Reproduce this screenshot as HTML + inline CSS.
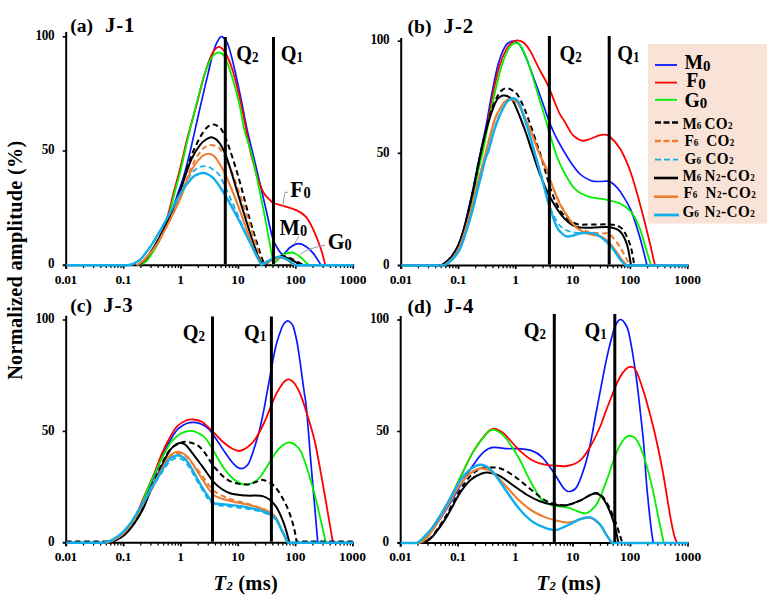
<!DOCTYPE html>
<html><head><meta charset="utf-8"><title>T2 spectra</title>
<style>
html,body{margin:0;padding:0;background:#fff;}
body{width:776px;height:601px;overflow:hidden;position:relative;font-family:"Liberation Serif",serif;}
</style></head><body>
<svg width="776" height="601" viewBox="0 0 776 601" style="position:absolute;left:0;top:0;font-family:'Liberation Serif',serif;font-weight:bold">
<rect width="776" height="601" fill="#fff"/>
<g stroke="#000" fill="none">
<path d="M66.2,32.0 V268.7" stroke-width="2"/>
<path d="M62.7,265.2 H354.2" stroke-width="2"/>
<path d="M62.7,36.8 H66.2" stroke-width="1.6"/>
<path d="M62.7,151.0 H66.2" stroke-width="1.6"/>
<path d="M66.2,265.2 V268.7" stroke-width="1.8"/>
<path d="M83.5,265.2 V268.0" stroke-width="1.3"/>
<path d="M93.6,265.2 V268.0" stroke-width="1.3"/>
<path d="M100.8,265.2 V268.0" stroke-width="1.3"/>
<path d="M106.3,265.2 V268.0" stroke-width="1.3"/>
<path d="M110.9,265.2 V268.0" stroke-width="1.3"/>
<path d="M114.7,265.2 V268.0" stroke-width="1.3"/>
<path d="M118.0,265.2 V268.0" stroke-width="1.3"/>
<path d="M121.0,265.2 V268.0" stroke-width="1.3"/>
<path d="M123.6,265.2 V268.7" stroke-width="1.8"/>
<path d="M140.9,265.2 V268.0" stroke-width="1.3"/>
<path d="M151.0,265.2 V268.0" stroke-width="1.3"/>
<path d="M158.2,265.2 V268.0" stroke-width="1.3"/>
<path d="M163.7,265.2 V268.0" stroke-width="1.3"/>
<path d="M168.3,265.2 V268.0" stroke-width="1.3"/>
<path d="M172.1,265.2 V268.0" stroke-width="1.3"/>
<path d="M175.4,265.2 V268.0" stroke-width="1.3"/>
<path d="M178.4,265.2 V268.0" stroke-width="1.3"/>
<path d="M181.0,265.2 V268.7" stroke-width="1.8"/>
<path d="M198.3,265.2 V268.0" stroke-width="1.3"/>
<path d="M208.4,265.2 V268.0" stroke-width="1.3"/>
<path d="M215.6,265.2 V268.0" stroke-width="1.3"/>
<path d="M221.1,265.2 V268.0" stroke-width="1.3"/>
<path d="M225.7,265.2 V268.0" stroke-width="1.3"/>
<path d="M229.5,265.2 V268.0" stroke-width="1.3"/>
<path d="M232.8,265.2 V268.0" stroke-width="1.3"/>
<path d="M235.8,265.2 V268.0" stroke-width="1.3"/>
<path d="M238.4,265.2 V268.7" stroke-width="1.8"/>
<path d="M255.7,265.2 V268.0" stroke-width="1.3"/>
<path d="M265.8,265.2 V268.0" stroke-width="1.3"/>
<path d="M273.0,265.2 V268.0" stroke-width="1.3"/>
<path d="M278.5,265.2 V268.0" stroke-width="1.3"/>
<path d="M283.1,265.2 V268.0" stroke-width="1.3"/>
<path d="M286.9,265.2 V268.0" stroke-width="1.3"/>
<path d="M290.2,265.2 V268.0" stroke-width="1.3"/>
<path d="M293.2,265.2 V268.0" stroke-width="1.3"/>
<path d="M295.8,265.2 V268.7" stroke-width="1.8"/>
<path d="M313.1,265.2 V268.0" stroke-width="1.3"/>
<path d="M323.2,265.2 V268.0" stroke-width="1.3"/>
<path d="M330.4,265.2 V268.0" stroke-width="1.3"/>
<path d="M335.9,265.2 V268.0" stroke-width="1.3"/>
<path d="M340.5,265.2 V268.0" stroke-width="1.3"/>
<path d="M344.3,265.2 V268.0" stroke-width="1.3"/>
<path d="M347.6,265.2 V268.0" stroke-width="1.3"/>
<path d="M350.6,265.2 V268.0" stroke-width="1.3"/>
<path d="M353.2,265.2 V268.7" stroke-width="1.8"/>
</g>
<text transform="translate(54.4,40.0) scale(0.930,1)" text-anchor="end" xml:space="preserve" letter-spacing="-0.3"><tspan font-size="14.2" dy="0.0" >100</tspan></text>
<text transform="translate(54.4,154.2) scale(0.930,1)" text-anchor="end" xml:space="preserve" letter-spacing="-0.3"><tspan font-size="14.2" dy="0.0" >50</tspan></text>
<text transform="translate(54.4,268.4) scale(0.930,1)" text-anchor="end" xml:space="preserve" letter-spacing="-0.3"><tspan font-size="14.2" dy="0.0" >0</tspan></text>
<text transform="translate(65.9,283.5) scale(1.000,1)" text-anchor="middle" xml:space="preserve" letter-spacing="-0.35"><tspan font-size="13.5" dy="0.0" >0.01</tspan></text>
<text transform="translate(123.3,283.5) scale(1.000,1)" text-anchor="middle" xml:space="preserve" letter-spacing="-0.35"><tspan font-size="13.5" dy="0.0" >0.1</tspan></text>
<text transform="translate(180.7,283.5) scale(1.000,1)" text-anchor="middle" xml:space="preserve" letter-spacing="0"><tspan font-size="13.5" dy="0.0" >1</tspan></text>
<text transform="translate(238.1,283.5) scale(1.000,1)" text-anchor="middle" xml:space="preserve" letter-spacing="0"><tspan font-size="13.5" dy="0.0" >10</tspan></text>
<text transform="translate(295.5,283.5) scale(1.000,1)" text-anchor="middle" xml:space="preserve" letter-spacing="0"><tspan font-size="13.5" dy="0.0" >100</tspan></text>
<text transform="translate(352.9,283.5) scale(1.000,1)" text-anchor="middle" xml:space="preserve" letter-spacing="0"><tspan font-size="13.5" dy="0.0" >1000</tspan></text>
<path d="M140.0,265.2 C141.2,264.2 144.5,262.0 147.0,259.0 C149.5,256.0 152.0,252.3 155.0,247.0 C158.0,241.7 162.2,233.2 165.0,227.0 C167.8,220.8 169.8,215.7 172.0,210.0 C174.2,204.3 176.1,198.5 178.0,193.0 C179.9,187.5 181.7,183.0 183.5,177.0 C185.3,171.0 187.1,164.1 188.8,157.0 C190.6,149.9 192.1,143.1 194.0,134.6 C195.9,126.1 198.2,115.7 200.5,105.8 C202.8,95.9 205.4,84.4 207.7,75.1 C209.9,65.8 212.0,56.0 214.0,49.8 C216.0,43.6 218.0,40.2 219.5,38.1 C221.0,36.0 221.7,36.3 223.0,37.2 C224.3,38.1 225.9,39.3 227.6,43.5 C229.3,47.7 230.9,53.9 233.0,62.5 C235.1,71.1 237.8,83.6 240.2,95.0 C242.6,106.4 244.9,119.8 247.4,131.0 C249.9,142.2 252.1,150.2 255.0,162.5 C257.9,174.8 262.1,192.5 265.0,205.0 C267.9,217.5 270.3,230.2 272.5,237.5 C274.7,244.8 276.2,246.2 278.0,249.0 C279.8,251.8 281.0,254.6 283.0,254.3 C285.0,254.1 287.4,249.3 290.0,247.5 C292.6,245.7 295.9,243.9 298.6,243.7 C301.3,243.5 303.6,244.9 306.0,246.5 C308.4,248.1 310.9,250.4 313.3,253.4 C315.7,256.4 319.4,262.6 320.6,264.4" fill="none" stroke="#0818FF" stroke-width="1.7" stroke-linejoin="round"/>
<path d="M137.5,265.2 C138.8,264.6 143.1,262.9 145.0,261.5 C146.9,260.1 146.9,259.6 149.0,256.5 C151.1,253.4 154.8,247.9 157.3,243.2 C159.8,238.5 162.0,233.5 163.9,228.2 C165.8,222.9 167.2,217.7 168.9,211.6 C170.6,205.5 172.1,198.5 173.9,191.6 C175.7,184.7 177.3,179.5 179.7,170.0 C182.1,160.5 185.5,145.3 188.3,134.6 C191.1,123.9 193.7,115.4 196.3,105.8 C198.9,96.2 201.3,85.3 203.8,76.9 C206.3,68.5 208.8,60.3 211.3,55.3 C213.8,50.3 216.2,47.1 218.6,46.8 C221.0,46.5 223.4,49.4 225.8,53.5 C228.2,57.6 230.6,63.7 233.0,71.5 C235.4,79.3 237.9,90.5 240.2,100.4 C242.4,110.3 244.9,122.7 246.5,131.0 C248.1,139.3 248.8,144.3 250.0,150.0 C251.2,155.7 252.7,160.2 254.0,165.0 C255.3,169.8 256.4,174.3 258.0,179.0 C259.6,183.7 261.8,189.5 263.8,193.0 C265.8,196.5 268.3,198.3 270.0,200.0 C271.7,201.7 271.3,201.9 273.9,203.0 C276.5,204.1 282.0,205.5 285.8,206.7 C289.6,207.9 293.4,208.7 296.8,210.4 C300.2,212.1 303.2,213.6 306.0,216.8 C308.8,220.0 310.9,224.4 313.3,229.6 C315.7,234.8 318.6,242.1 320.6,248.0 C322.6,253.9 324.6,262.3 325.4,265.2" fill="none" stroke="#FF0000" stroke-width="1.8" stroke-linejoin="round"/>
<path d="M139.0,265.2 C140.2,264.6 144.2,262.9 146.0,261.5 C147.8,260.1 147.9,259.6 150.0,256.5 C152.1,253.4 155.8,247.9 158.3,243.2 C160.8,238.5 163.0,233.5 164.9,228.2 C166.8,222.9 168.2,217.7 169.9,211.6 C171.6,205.5 173.1,198.5 174.9,191.6 C176.7,184.7 178.4,179.5 180.7,170.0 C183.0,160.5 186.2,145.3 188.8,134.6 C191.4,123.9 193.6,115.1 196.0,105.8 C198.4,96.5 200.8,86.4 203.2,78.7 C205.6,71.0 208.0,64.1 210.4,59.8 C212.8,55.4 215.3,53.0 217.7,52.6 C220.1,52.2 222.5,53.0 224.9,57.1 C227.3,61.2 229.7,69.1 232.1,76.9 C234.5,84.7 237.2,95.0 239.3,104.0 C241.4,113.0 242.5,122.1 244.7,131.0 C246.9,139.9 249.5,145.2 252.5,157.5 C255.5,169.8 259.6,190.4 262.5,205.0 C265.4,219.6 268.2,235.2 270.0,245.0 C271.8,254.8 272.9,260.8 273.5,264.0 L273.5,264.0 C274.4,263.1 277.2,260.1 279.0,258.5 C280.8,256.9 281.9,255.3 284.0,254.3 C286.1,253.3 289.3,252.6 291.3,252.5 C293.3,252.4 294.5,253.2 296.0,254.0 C297.5,254.8 298.9,255.8 300.4,257.0 C301.9,258.2 303.6,260.2 305.0,261.5 C306.4,262.8 308.1,264.4 308.7,265.0" fill="none" stroke="#00F000" stroke-width="1.8" stroke-linejoin="round"/>
<path d="M138.3,265.2 C139.4,264.2 142.5,262.3 145.0,259.5 C147.5,256.7 150.2,253.1 153.3,248.2 C156.4,243.3 160.0,236.6 163.3,229.9 C166.6,223.2 170.2,215.6 173.3,208.3 C176.4,201.0 179.3,192.7 181.6,186.0 C183.9,179.3 185.2,173.5 187.0,168.0 C188.8,162.5 190.3,158.1 192.5,153.0 C194.7,147.9 197.6,141.8 200.0,137.5 C202.4,133.2 204.7,129.7 207.0,127.5 C209.3,125.3 211.9,124.7 213.8,124.5 C215.6,124.3 216.5,125.4 218.0,126.5 C219.5,127.6 220.5,127.3 222.5,131.2 C224.5,135.2 227.1,141.5 230.0,150.0 C232.9,158.5 236.7,170.8 240.0,182.5 C243.3,194.2 246.7,208.3 250.0,220.0 C253.3,231.7 257.6,245.0 260.0,252.5 C262.4,260.0 263.8,262.9 264.5,265.0 L264.5,265.0 C265.8,264.2 269.1,261.5 272.0,260.0 C274.9,258.5 278.7,256.2 282.0,256.0 C285.3,255.8 288.5,257.5 292.0,259.0 C295.5,260.5 301.2,263.8 303.0,264.8" fill="none" stroke="#000000" stroke-width="2.0" stroke-linejoin="round" stroke-dasharray="5.5,3.5"/>
<path d="M136.6,265.2 C137.7,264.5 140.9,262.8 143.0,261.0 C145.1,259.2 146.7,257.2 149.0,254.5 C151.3,251.8 153.7,249.6 156.6,244.9 C159.5,240.2 163.5,232.4 166.6,226.6 C169.7,220.8 172.3,215.4 174.9,209.9 C177.5,204.4 180.1,199.5 182.4,193.3 C184.8,187.2 186.9,178.6 189.0,173.0 C191.1,167.4 193.0,163.7 195.0,160.0 C197.0,156.3 199.2,153.2 201.0,151.0 C202.8,148.8 204.3,147.5 206.0,146.5 C207.7,145.5 208.9,144.6 211.2,145.0 C213.6,145.4 216.9,145.0 220.0,148.8 C223.1,152.5 226.7,159.8 230.0,167.5 C233.3,175.2 236.7,185.4 240.0,195.0 C243.3,204.6 246.7,214.6 250.0,225.0 C253.3,235.4 257.8,250.9 260.0,257.5 C262.2,264.1 262.5,263.3 263.0,264.5 L263.0,264.5 C264.3,263.9 268.0,262.2 271.0,261.0 C274.0,259.8 278.0,257.6 281.0,257.5 C284.0,257.4 286.5,259.3 289.0,260.5 C291.5,261.7 294.8,264.1 296.0,264.8" fill="none" stroke="#ED7D31" stroke-width="2.0" stroke-linejoin="round" stroke-dasharray="5.5,3.5"/>
<path d="M127.0,265.2 C127.8,265.1 130.1,265.0 131.7,264.5 C133.3,264.0 134.8,263.1 136.5,262.0 C138.2,260.9 139.1,261.1 141.6,258.2 C144.1,255.3 148.3,249.9 151.6,244.9 C154.9,239.9 158.3,234.0 161.6,228.2 C164.9,222.4 168.3,216.3 171.6,209.9 C174.9,203.5 178.3,196.1 181.6,190.0 C184.9,183.9 188.7,177.2 191.6,173.5 C194.5,169.8 196.6,168.7 199.0,167.5 C201.4,166.3 203.9,165.9 206.2,166.2 C208.6,166.6 210.7,167.8 213.0,169.5 C215.3,171.2 217.2,171.6 220.0,176.2 C222.8,180.9 226.7,190.2 230.0,197.5 C233.3,204.8 236.7,212.5 240.0,220.0 C243.3,227.5 246.7,235.3 250.0,242.5 C253.3,249.7 258.1,259.2 260.0,263.0 C261.9,266.8 261.2,264.7 261.5,265.0 L261.5,265.0 C262.9,264.2 267.0,261.8 270.0,260.5 C273.0,259.2 276.4,257.0 279.4,257.0 C282.4,257.0 285.4,259.2 288.0,260.5 C290.6,261.8 293.8,264.2 295.0,265.0" fill="none" stroke="#12AEEA" stroke-width="1.8" stroke-linejoin="round" stroke-dasharray="5.5,3.5"/>
<path d="M138.3,265.2 C139.4,264.2 142.5,262.3 145.0,259.5 C147.5,256.7 150.2,253.1 153.3,248.2 C156.4,243.3 160.0,236.6 163.3,229.9 C166.6,223.2 170.2,215.5 173.3,208.3 C176.4,201.1 179.4,192.7 181.6,186.6 C183.8,180.5 184.9,176.8 186.6,172.0 C188.3,167.2 189.8,162.5 192.0,158.0 C194.2,153.5 197.7,148.1 200.0,145.0 C202.3,141.9 203.9,140.8 206.0,139.5 C208.1,138.2 210.2,136.8 212.5,137.5 C214.8,138.2 217.5,140.0 220.0,143.8 C222.5,147.5 224.6,151.9 227.5,160.0 C230.4,168.1 234.2,181.7 237.5,192.5 C240.8,203.3 244.2,214.6 247.5,225.0 C250.8,235.4 255.0,248.4 257.5,255.0 C260.0,261.6 261.7,262.9 262.5,264.5 L262.5,264.5 C263.8,263.8 266.9,261.8 270.0,260.5 C273.1,259.2 277.5,256.7 281.0,256.5 C284.5,256.3 287.8,258.1 291.0,259.5 C294.2,260.9 298.5,263.9 300.0,264.8" fill="none" stroke="#000000" stroke-width="2.0" stroke-linejoin="round"/>
<path d="M136.6,265.2 C137.7,264.5 140.9,262.8 143.0,261.0 C145.1,259.2 146.7,257.2 149.0,254.5 C151.3,251.8 153.7,249.6 156.6,244.9 C159.5,240.2 163.5,232.4 166.6,226.6 C169.7,220.8 172.3,215.4 174.9,209.9 C177.5,204.4 180.2,198.8 182.4,193.3 C184.6,187.8 185.9,181.8 188.0,177.0 C190.1,172.2 192.7,167.9 195.0,164.5 C197.3,161.1 199.8,158.3 202.0,156.5 C204.2,154.7 206.5,153.8 208.5,153.8 C210.5,153.7 212.4,154.8 214.0,156.0 C215.6,157.2 216.2,158.3 218.0,161.2 C219.8,164.2 222.2,167.7 225.0,173.8 C227.8,179.8 231.7,189.0 235.0,197.5 C238.3,206.0 241.7,215.8 245.0,225.0 C248.3,234.2 252.3,245.9 255.0,252.5 C257.7,259.1 260.2,262.5 261.2,264.5 L261.2,264.5 C262.7,263.9 266.7,262.2 270.0,261.0 C273.3,259.8 278.0,257.6 281.0,257.5 C284.0,257.4 286.0,259.3 288.0,260.5 C290.0,261.7 292.2,264.1 293.0,264.8" fill="none" stroke="#ED7D31" stroke-width="2.1" stroke-linejoin="round"/>
<path d="M66.2,265.2 C76.3,265.2 116.9,265.2 127.0,265.2 L127.0,265.2 C127.8,265.1 130.1,265.0 131.7,264.5 C133.3,264.0 134.8,263.1 136.5,262.0 C138.2,260.9 139.1,261.1 141.6,258.2 C144.1,255.3 148.3,249.9 151.6,244.9 C154.9,239.9 158.3,234.0 161.6,228.2 C164.9,222.4 168.3,216.0 171.6,209.9 C174.9,203.8 178.3,196.9 181.6,191.6 C184.9,186.3 188.8,181.2 191.6,178.3 C194.4,175.4 196.5,174.9 198.5,174.0 C200.5,173.1 202.0,172.8 203.8,173.0 C205.5,173.2 207.1,173.8 209.0,175.0 C210.9,176.2 212.3,176.7 215.0,180.0 C217.7,183.3 221.2,188.8 225.0,195.0 C228.8,201.2 233.3,209.6 237.5,217.5 C241.7,225.4 246.0,234.7 250.0,242.5 C254.0,250.3 259.4,260.8 261.2,264.5 L262.2,264.6 C263.5,263.8 267.1,261.3 270.0,260.0 C272.9,258.7 276.4,256.7 279.4,256.7 C282.4,256.7 285.4,258.6 288.0,260.0 C290.6,261.4 293.8,264.3 295.0,265.2 L295.0,265.2 C304.8,265.2 343.8,265.2 353.5,265.2" fill="none" stroke="#12AEEA" stroke-width="2.4" stroke-linejoin="round"/>
<path d="M225.3,37.0 V264.2" stroke="#000" stroke-width="3" fill="none"/>
<path d="M273.5,37.0 V264.2" stroke="#000" stroke-width="3" fill="none"/>
<text transform="translate(236.3,61.2) scale(0.870,1)" text-anchor="start" xml:space="preserve" ><tspan font-size="23.2" dy="0.0" >Q</tspan><tspan font-size="15.0" dy="0.3" >2</tspan></text>
<text transform="translate(280.7,61.2) scale(0.870,1)" text-anchor="start" xml:space="preserve" ><tspan font-size="23.2" dy="0.0" >Q</tspan><tspan font-size="15.0" dy="0.3" >1</tspan></text>
<text transform="translate(70.3,31.5) scale(1.000,1)" text-anchor="start" xml:space="preserve" ><tspan font-size="19.6" dy="0.0" >(a)</tspan></text>
<text transform="translate(105.0,31.5) scale(1.000,1)" text-anchor="start" xml:space="preserve" letter-spacing="0.9"><tspan font-size="20.8" dy="0.0" >J-1</tspan></text>
<g stroke="#000" fill="none">
<path d="M401.2,38.0 V269.0" stroke-width="2"/>
<path d="M397.7,265.5 H688.7" stroke-width="2"/>
<path d="M397.7,41.2 H401.2" stroke-width="1.6"/>
<path d="M397.7,153.3 H401.2" stroke-width="1.6"/>
<path d="M401.2,265.5 V269.0" stroke-width="1.8"/>
<path d="M418.4,265.5 V268.3" stroke-width="1.3"/>
<path d="M428.5,265.5 V268.3" stroke-width="1.3"/>
<path d="M435.7,265.5 V268.3" stroke-width="1.3"/>
<path d="M441.3,265.5 V268.3" stroke-width="1.3"/>
<path d="M445.8,265.5 V268.3" stroke-width="1.3"/>
<path d="M449.6,265.5 V268.3" stroke-width="1.3"/>
<path d="M452.9,265.5 V268.3" stroke-width="1.3"/>
<path d="M455.9,265.5 V268.3" stroke-width="1.3"/>
<path d="M458.5,265.5 V269.0" stroke-width="1.8"/>
<path d="M475.7,265.5 V268.3" stroke-width="1.3"/>
<path d="M485.8,265.5 V268.3" stroke-width="1.3"/>
<path d="M493.0,265.5 V268.3" stroke-width="1.3"/>
<path d="M498.6,265.5 V268.3" stroke-width="1.3"/>
<path d="M503.1,265.5 V268.3" stroke-width="1.3"/>
<path d="M506.9,265.5 V268.3" stroke-width="1.3"/>
<path d="M510.2,265.5 V268.3" stroke-width="1.3"/>
<path d="M513.2,265.5 V268.3" stroke-width="1.3"/>
<path d="M515.8,265.5 V269.0" stroke-width="1.8"/>
<path d="M533.0,265.5 V268.3" stroke-width="1.3"/>
<path d="M543.1,265.5 V268.3" stroke-width="1.3"/>
<path d="M550.3,265.5 V268.3" stroke-width="1.3"/>
<path d="M555.9,265.5 V268.3" stroke-width="1.3"/>
<path d="M560.4,265.5 V268.3" stroke-width="1.3"/>
<path d="M564.2,265.5 V268.3" stroke-width="1.3"/>
<path d="M567.5,265.5 V268.3" stroke-width="1.3"/>
<path d="M570.5,265.5 V268.3" stroke-width="1.3"/>
<path d="M573.1,265.5 V269.0" stroke-width="1.8"/>
<path d="M590.3,265.5 V268.3" stroke-width="1.3"/>
<path d="M600.4,265.5 V268.3" stroke-width="1.3"/>
<path d="M607.6,265.5 V268.3" stroke-width="1.3"/>
<path d="M613.2,265.5 V268.3" stroke-width="1.3"/>
<path d="M617.7,265.5 V268.3" stroke-width="1.3"/>
<path d="M621.5,265.5 V268.3" stroke-width="1.3"/>
<path d="M624.8,265.5 V268.3" stroke-width="1.3"/>
<path d="M627.8,265.5 V268.3" stroke-width="1.3"/>
<path d="M630.4,265.5 V269.0" stroke-width="1.8"/>
<path d="M647.6,265.5 V268.3" stroke-width="1.3"/>
<path d="M657.7,265.5 V268.3" stroke-width="1.3"/>
<path d="M664.9,265.5 V268.3" stroke-width="1.3"/>
<path d="M670.5,265.5 V268.3" stroke-width="1.3"/>
<path d="M675.0,265.5 V268.3" stroke-width="1.3"/>
<path d="M678.8,265.5 V268.3" stroke-width="1.3"/>
<path d="M682.1,265.5 V268.3" stroke-width="1.3"/>
<path d="M685.1,265.5 V268.3" stroke-width="1.3"/>
<path d="M687.7,265.5 V269.0" stroke-width="1.8"/>
</g>
<text transform="translate(389.4,44.4) scale(0.930,1)" text-anchor="end" xml:space="preserve" letter-spacing="-0.3"><tspan font-size="14.2" dy="0.0" >100</tspan></text>
<text transform="translate(389.4,156.5) scale(0.930,1)" text-anchor="end" xml:space="preserve" letter-spacing="-0.3"><tspan font-size="14.2" dy="0.0" >50</tspan></text>
<text transform="translate(389.4,268.7) scale(0.930,1)" text-anchor="end" xml:space="preserve" letter-spacing="-0.3"><tspan font-size="14.2" dy="0.0" >0</tspan></text>
<text transform="translate(400.9,283.8) scale(1.000,1)" text-anchor="middle" xml:space="preserve" letter-spacing="-0.35"><tspan font-size="13.5" dy="0.0" >0.01</tspan></text>
<text transform="translate(458.2,283.8) scale(1.000,1)" text-anchor="middle" xml:space="preserve" letter-spacing="-0.35"><tspan font-size="13.5" dy="0.0" >0.1</tspan></text>
<text transform="translate(515.5,283.8) scale(1.000,1)" text-anchor="middle" xml:space="preserve" letter-spacing="0"><tspan font-size="13.5" dy="0.0" >1</tspan></text>
<text transform="translate(572.8,283.8) scale(1.000,1)" text-anchor="middle" xml:space="preserve" letter-spacing="0"><tspan font-size="13.5" dy="0.0" >10</tspan></text>
<text transform="translate(630.1,283.8) scale(1.000,1)" text-anchor="middle" xml:space="preserve" letter-spacing="0"><tspan font-size="13.5" dy="0.0" >100</tspan></text>
<text transform="translate(687.4,283.8) scale(1.000,1)" text-anchor="middle" xml:space="preserve" letter-spacing="0"><tspan font-size="13.5" dy="0.0" >1000</tspan></text>
<path d="M439.0,265.5 C439.7,265.3 441.0,265.8 443.0,264.4 C445.0,262.9 448.8,259.9 451.2,256.8 C453.6,253.7 455.7,250.3 457.7,246.0 C459.7,241.7 461.3,237.0 463.1,230.9 C464.9,224.8 466.9,216.0 468.5,209.2 C470.1,202.3 471.4,196.7 472.9,189.8 C474.3,183.0 475.9,174.5 477.2,168.1 C478.5,161.7 479.3,158.3 480.8,151.2 C482.3,144.0 484.4,134.6 486.2,125.2 C488.0,115.8 489.6,105.0 491.6,94.9 C493.6,84.8 495.9,72.5 498.1,64.6 C500.3,56.7 502.6,51.1 504.6,47.3 C506.6,43.5 508.4,42.9 510.0,41.9 C511.6,40.9 512.8,40.8 514.4,41.3 C516.0,41.8 517.8,42.3 519.8,45.1 C521.8,47.9 524.1,53.0 526.3,58.1 C528.4,63.2 530.2,68.6 532.7,75.4 C535.2,82.2 538.7,91.6 541.4,99.2 C544.1,106.8 546.5,114.4 549.0,120.9 C551.5,127.4 553.0,131.5 556.5,138.2 C560.0,144.9 566.0,155.1 570.0,161.2 C574.0,167.2 577.0,171.2 580.5,174.5 C584.0,177.8 588.0,179.5 591.2,180.7 C594.5,181.9 597.1,181.4 600.0,181.5 C602.9,181.6 606.2,180.7 608.5,181.2 C610.8,181.7 612.0,182.7 614.0,184.5 C616.0,186.3 617.6,187.5 620.4,191.8 C623.2,196.1 627.9,203.3 631.0,210.4 C634.1,217.5 636.8,227.3 639.0,234.4 C641.2,241.5 642.7,247.8 644.0,253.0 C645.3,258.2 646.5,263.4 647.0,265.5" fill="none" stroke="#0818FF" stroke-width="1.7" stroke-linejoin="round"/>
<path d="M440.0,265.5 C440.7,265.3 442.0,265.8 444.0,264.4 C446.0,262.9 449.8,259.9 452.2,256.8 C454.6,253.7 456.7,250.3 458.7,246.0 C460.7,241.7 462.3,237.0 464.1,230.9 C465.9,224.8 467.9,216.0 469.5,209.2 C471.1,202.3 472.4,196.7 473.9,189.8 C475.3,183.0 476.8,174.5 478.2,168.1 C479.6,161.7 480.5,158.3 482.0,151.2 C483.5,144.0 485.5,134.6 487.3,125.2 C489.1,115.8 490.7,104.8 492.7,94.9 C494.7,85.0 497.1,73.8 499.5,66.0 C501.9,58.2 504.6,52.4 506.8,48.4 C509.0,44.4 510.7,43.6 512.5,42.3 C514.3,41.0 515.7,40.3 517.6,40.4 C519.5,40.5 521.9,41.1 524.1,43.0 C526.3,44.9 528.1,47.3 530.6,51.6 C533.1,55.9 536.3,63.3 539.2,68.9 C542.1,74.5 545.4,79.8 547.9,85.2 C550.4,90.6 552.4,96.5 554.4,101.4 C556.4,106.3 558.3,111.1 560.0,114.4 C561.7,117.8 562.9,118.7 564.6,121.5 C566.3,124.3 568.5,128.6 570.0,131.0 C571.5,133.4 571.9,134.4 573.9,136.0 C575.9,137.6 579.2,140.2 581.9,140.7 C584.6,141.2 587.1,139.9 590.0,139.0 C592.9,138.1 596.9,136.1 599.2,135.4 C601.5,134.7 602.2,134.4 604.0,134.6 C605.8,134.8 607.1,134.1 609.8,136.5 C612.5,138.9 616.9,143.2 620.4,149.3 C623.9,155.4 627.5,163.0 631.0,173.2 C634.5,183.4 638.6,198.9 641.7,210.4 C644.8,221.9 647.5,233.2 649.7,242.4 C651.9,251.6 654.1,261.6 655.0,265.5" fill="none" stroke="#FF0000" stroke-width="1.8" stroke-linejoin="round"/>
<path d="M440.5,265.5 C441.2,265.3 442.4,265.8 444.5,264.4 C446.6,262.9 450.3,259.9 452.8,256.8 C455.3,253.7 457.3,250.3 459.3,246.0 C461.3,241.7 462.9,237.0 464.7,230.9 C466.5,224.8 468.5,216.0 470.1,209.2 C471.7,202.3 473.0,196.7 474.5,189.8 C476.0,183.0 477.5,174.5 478.9,168.1 C480.3,161.7 481.4,158.7 483.0,151.2 C484.6,143.7 486.4,132.8 488.4,123.0 C490.4,113.2 492.7,102.1 494.9,92.7 C497.1,83.3 499.1,74.2 501.4,66.8 C503.7,59.4 506.6,52.4 508.9,48.4 C511.2,44.4 513.4,43.4 515.4,43.0 C517.4,42.6 518.8,43.3 520.8,46.2 C522.8,49.1 524.9,54.0 527.3,60.3 C529.6,66.6 532.5,76.5 534.9,84.1 C537.2,91.7 539.2,98.5 541.4,105.7 C543.6,112.9 545.4,119.1 547.9,127.4 C550.4,135.7 553.7,147.9 556.5,155.5 C559.3,163.1 561.5,167.6 564.6,173.2 C567.7,178.8 571.2,185.3 575.2,189.2 C579.2,193.1 583.2,194.8 588.5,196.6 C593.8,198.4 601.8,198.6 607.1,199.8 C612.4,201.0 616.4,201.8 620.4,203.8 C624.4,205.8 627.9,208.0 631.0,211.8 C634.1,215.6 636.5,220.4 639.0,226.4 C641.5,232.4 643.7,241.2 645.7,247.7 C647.7,254.2 650.1,262.5 651.0,265.5" fill="none" stroke="#00F000" stroke-width="1.8" stroke-linejoin="round"/>
<path d="M439.0,265.5 C439.7,265.3 440.9,265.8 443.0,264.4 C445.1,262.9 449.1,259.9 451.6,256.8 C454.1,253.7 456.1,250.3 458.1,246.0 C460.1,241.7 461.7,237.0 463.5,230.9 C465.3,224.8 467.3,216.0 468.9,209.2 C470.5,202.3 471.9,196.7 473.3,189.8 C474.8,183.0 476.5,173.5 477.6,168.1 C478.7,162.7 478.4,163.3 479.7,157.6 C480.9,151.9 483.1,141.8 485.1,133.9 C487.1,126.0 489.4,116.6 491.6,110.1 C493.8,103.6 496.2,98.3 498.1,94.9 C500.0,91.5 501.4,90.6 503.0,89.5 C504.6,88.4 506.3,88.2 507.9,88.4 C509.5,88.6 510.9,89.4 512.5,90.5 C514.1,91.6 515.7,92.0 517.6,94.9 C519.5,97.8 521.9,102.9 524.1,107.9 C526.3,113.0 528.4,119.1 530.6,125.2 C532.8,131.3 535.3,139.3 537.1,144.7 C538.9,150.1 540.1,153.4 541.4,157.6 C542.7,161.8 543.2,164.1 545.0,170.0 C546.8,175.9 549.2,185.8 552.0,193.0 C554.8,200.2 558.1,207.9 562.0,213.0 C565.9,218.1 570.3,221.6 575.2,223.5 C580.1,225.4 585.4,224.3 591.2,224.5 C597.0,224.7 605.0,224.1 609.8,224.5 C614.6,224.9 617.3,225.3 620.0,227.0 C622.7,228.7 624.0,231.0 625.8,234.4 C627.6,237.8 629.6,242.5 631.0,247.7 C632.4,252.9 633.8,262.5 634.3,265.5" fill="none" stroke="#000000" stroke-width="2.0" stroke-linejoin="round" stroke-dasharray="5.5,3.5"/>
<path d="M440.5,265.5 C441.2,265.3 442.9,265.9 445.0,264.5 C447.1,263.1 450.6,260.3 453.0,257.4 C455.4,254.5 457.4,251.4 459.3,247.2 C461.2,243.0 462.8,238.1 464.7,232.0 C466.6,225.9 468.9,218.2 471.0,210.5 C473.1,202.8 474.6,195.2 477.0,186.0 C479.4,176.8 482.8,164.2 485.1,155.5 C487.4,146.8 488.8,140.4 490.6,133.9 C492.4,127.4 494.0,121.4 496.0,116.5 C498.0,111.6 500.8,107.3 502.5,104.6 C504.2,101.9 505.2,101.2 506.5,100.3 C507.8,99.4 508.7,99.1 510.0,99.2 C511.3,99.3 513.0,99.8 514.5,100.7 C516.0,101.6 516.7,101.2 518.7,104.6 C520.7,108.0 524.0,115.7 526.3,120.9 C528.6,126.1 530.6,130.6 532.7,136.0 C534.9,141.4 536.7,147.3 539.2,153.3 C541.7,159.3 544.9,165.5 547.5,172.0 C550.1,178.5 552.1,185.8 555.0,192.5 C557.9,199.2 561.6,206.9 565.0,212.5 C568.4,218.1 571.3,222.8 575.2,226.0 C579.1,229.2 584.1,230.8 588.5,232.0 C592.9,233.2 598.2,233.1 601.8,233.5 C605.3,233.9 606.7,232.0 609.8,234.4 C612.9,236.8 617.1,242.5 620.4,247.7 C623.7,252.9 628.2,262.5 629.8,265.5" fill="none" stroke="#ED7D31" stroke-width="2.0" stroke-linejoin="round" stroke-dasharray="5.5,3.5"/>
<path d="M441.0,265.5 C441.7,265.4 443.0,266.3 445.1,265.0 C447.2,263.7 451.3,260.7 453.8,257.9 C456.3,255.1 458.3,252.3 460.3,248.2 C462.3,244.0 463.7,239.1 465.7,233.0 C467.7,226.9 470.0,219.3 472.2,211.4 C474.4,203.5 476.5,194.1 478.7,185.4 C480.9,176.8 483.6,165.2 485.2,159.5 C486.8,153.8 487.0,155.8 488.4,151.2 C489.8,146.6 492.0,137.5 493.8,131.7 C495.6,125.9 497.2,121.2 499.2,116.5 C501.2,111.8 504.0,106.4 505.7,103.6 C507.4,100.8 508.2,100.5 509.5,99.6 C510.8,98.7 512.1,98.1 513.3,98.2 C514.5,98.3 515.7,98.9 516.8,100.0 C517.9,101.1 518.4,101.1 519.8,104.6 C521.2,108.1 523.4,115.3 525.2,120.9 C527.0,126.5 528.8,132.1 530.6,138.2 C532.4,144.3 534.0,150.8 536.0,157.6 C538.0,164.4 540.7,172.4 542.5,179.0 C544.3,185.6 545.5,191.8 547.0,197.0 C548.5,202.2 549.2,205.7 551.3,210.4 C553.3,215.1 556.2,221.4 559.3,225.0 C562.4,228.6 566.0,230.4 570.0,231.7 C574.0,233.0 578.8,232.6 583.2,233.0 C587.6,233.4 592.1,232.4 596.5,234.4 C600.9,236.4 605.8,240.8 609.8,245.0 C613.8,249.2 617.7,256.3 620.4,259.7 C623.1,263.1 624.9,264.5 625.8,265.5" fill="none" stroke="#12AEEA" stroke-width="1.8" stroke-linejoin="round" stroke-dasharray="5.5,3.5"/>
<path d="M439.0,265.5 C439.7,265.3 440.9,265.8 443.0,264.4 C445.1,262.9 449.1,259.9 451.6,256.8 C454.1,253.7 456.1,250.3 458.1,246.0 C460.1,241.7 461.7,237.0 463.5,230.9 C465.3,224.8 467.3,216.0 468.9,209.2 C470.5,202.3 471.9,196.7 473.3,189.8 C474.8,183.0 476.5,173.5 477.6,168.1 C478.7,162.7 478.8,161.9 479.7,157.6 C480.6,153.3 481.4,149.0 483.0,142.5 C484.6,136.0 487.3,125.5 489.5,118.7 C491.7,111.9 494.2,105.1 496.0,101.4 C497.8,97.7 499.1,97.5 500.5,96.5 C501.9,95.5 503.2,95.5 504.6,95.6 C506.0,95.7 507.6,96.0 509.0,97.0 C510.4,98.0 511.5,98.2 513.3,101.4 C515.1,104.7 517.6,111.1 519.8,116.5 C522.0,121.9 524.1,127.8 526.3,133.9 C528.4,140.0 530.3,146.3 532.7,153.3 C535.1,160.3 537.7,168.7 540.6,176.0 C543.5,183.3 546.4,190.5 550.0,197.1 C553.6,203.7 557.8,210.9 562.0,215.8 C566.2,220.7 570.3,224.4 575.2,226.4 C580.1,228.4 585.4,227.6 591.2,227.7 C597.0,227.8 604.9,226.5 609.8,227.2 C614.7,227.9 617.5,228.7 620.4,231.7 C623.3,234.7 625.3,239.4 627.1,245.0 C628.9,250.6 630.4,262.1 631.0,265.5" fill="none" stroke="#000000" stroke-width="2.0" stroke-linejoin="round"/>
<path d="M440.5,265.5 C441.2,265.3 442.9,265.9 445.0,264.5 C447.1,263.1 450.6,260.3 453.0,257.4 C455.4,254.5 457.4,251.4 459.3,247.2 C461.2,243.0 462.8,238.1 464.7,232.0 C466.6,225.9 468.9,218.2 471.0,210.5 C473.1,202.8 474.6,195.2 477.0,186.0 C479.4,176.8 482.8,164.2 485.1,155.5 C487.4,146.8 488.8,140.4 490.6,133.9 C492.4,127.4 494.0,121.4 496.0,116.5 C498.0,111.6 500.8,107.3 502.5,104.6 C504.2,101.9 505.2,101.2 506.5,100.3 C507.8,99.4 508.7,99.1 510.0,99.2 C511.3,99.3 513.0,99.8 514.5,100.7 C516.0,101.6 516.7,101.2 518.7,104.6 C520.7,108.0 524.0,115.7 526.3,120.9 C528.6,126.1 530.6,130.6 532.7,136.0 C534.9,141.4 536.7,147.5 539.2,153.3 C541.7,159.1 545.7,166.6 547.5,171.0 C549.3,175.4 548.8,176.4 550.0,180.0 C551.2,183.6 553.0,187.8 555.0,192.5 C557.0,197.2 558.6,202.3 562.0,208.0 C565.4,213.7 570.8,222.1 575.2,226.4 C579.6,230.7 584.1,232.1 588.5,233.9 C592.9,235.7 597.8,234.9 601.8,237.0 C605.8,239.1 609.2,242.6 612.5,246.4 C615.8,250.2 619.4,256.5 621.8,259.7 C624.2,262.9 626.1,264.5 627.0,265.5" fill="none" stroke="#ED7D31" stroke-width="2.1" stroke-linejoin="round"/>
<path d="M401.2,265.5 C407.2,265.5 431.0,265.5 437.0,265.5 L437.0,265.5 C437.7,265.5 439.6,265.5 441.0,265.4 C442.4,265.3 443.0,266.2 445.1,265.0 C447.2,263.8 451.3,260.7 453.8,257.9 C456.3,255.1 458.3,252.3 460.3,248.2 C462.3,244.0 463.7,239.1 465.7,233.0 C467.7,226.9 470.0,219.3 472.2,211.4 C474.4,203.5 476.5,194.1 478.7,185.4 C480.9,176.8 483.6,165.2 485.2,159.5 C486.8,153.8 487.0,155.8 488.4,151.2 C489.8,146.6 492.0,137.5 493.8,131.7 C495.6,125.9 497.2,121.2 499.2,116.5 C501.2,111.8 504.0,106.4 505.7,103.6 C507.4,100.8 508.2,100.5 509.5,99.6 C510.8,98.7 512.1,98.1 513.3,98.2 C514.5,98.3 515.7,98.9 516.8,100.0 C517.9,101.1 518.4,101.1 519.8,104.6 C521.2,108.1 523.4,115.3 525.2,120.9 C527.0,126.5 528.8,132.1 530.6,138.2 C532.4,144.3 534.0,150.5 536.0,157.6 C538.0,164.7 540.3,173.1 542.5,181.0 C544.7,188.9 546.6,197.4 549.0,205.0 C551.4,212.6 554.4,221.7 556.6,226.4 C558.8,231.2 560.2,231.8 562.0,233.5 C563.8,235.2 565.0,236.2 567.2,236.5 C569.4,236.8 572.3,235.6 575.0,235.0 C577.7,234.4 579.6,233.1 583.2,233.0 C586.8,232.9 592.1,232.4 596.5,234.4 C600.9,236.4 605.8,240.8 609.8,245.0 C613.8,249.2 617.7,256.3 620.4,259.7 C623.1,263.1 624.9,264.5 625.8,265.5 L625.8,265.5 C636.2,265.5 677.6,265.5 688.0,265.5" fill="none" stroke="#12AEEA" stroke-width="2.4" stroke-linejoin="round"/>
<path d="M549.4,36.0 V264.5" stroke="#000" stroke-width="3" fill="none"/>
<path d="M609.2,36.0 V264.5" stroke="#000" stroke-width="3" fill="none"/>
<text transform="translate(559.6,61.2) scale(0.870,1)" text-anchor="start" xml:space="preserve" ><tspan font-size="23.2" dy="0.0" >Q</tspan><tspan font-size="15.0" dy="0.3" >2</tspan></text>
<text transform="translate(617.3,61.2) scale(0.870,1)" text-anchor="start" xml:space="preserve" ><tspan font-size="23.2" dy="0.0" >Q</tspan><tspan font-size="15.0" dy="0.3" >1</tspan></text>
<text transform="translate(407.6,32.7) scale(1.000,1)" text-anchor="start" xml:space="preserve" ><tspan font-size="19.6" dy="0.0" >(b)</tspan></text>
<text transform="translate(443.6,32.7) scale(1.000,1)" text-anchor="start" xml:space="preserve" letter-spacing="0.9"><tspan font-size="20.8" dy="0.0" >J-2</tspan></text>
<g stroke="#000" fill="none">
<path d="M66.2,315.8 V546.2" stroke-width="2"/>
<path d="M62.7,542.7 H353.9" stroke-width="2"/>
<path d="M62.7,320.0 H66.2" stroke-width="1.6"/>
<path d="M62.7,431.4 H66.2" stroke-width="1.6"/>
<path d="M66.2,542.7 V546.2" stroke-width="1.8"/>
<path d="M83.5,542.7 V545.5" stroke-width="1.3"/>
<path d="M93.6,542.7 V545.5" stroke-width="1.3"/>
<path d="M100.7,542.7 V545.5" stroke-width="1.3"/>
<path d="M106.3,542.7 V545.5" stroke-width="1.3"/>
<path d="M110.8,542.7 V545.5" stroke-width="1.3"/>
<path d="M114.7,542.7 V545.5" stroke-width="1.3"/>
<path d="M118.0,542.7 V545.5" stroke-width="1.3"/>
<path d="M120.9,542.7 V545.5" stroke-width="1.3"/>
<path d="M123.6,542.7 V546.2" stroke-width="1.8"/>
<path d="M140.8,542.7 V545.5" stroke-width="1.3"/>
<path d="M150.9,542.7 V545.5" stroke-width="1.3"/>
<path d="M158.1,542.7 V545.5" stroke-width="1.3"/>
<path d="M163.6,542.7 V545.5" stroke-width="1.3"/>
<path d="M168.2,542.7 V545.5" stroke-width="1.3"/>
<path d="M172.0,542.7 V545.5" stroke-width="1.3"/>
<path d="M175.3,542.7 V545.5" stroke-width="1.3"/>
<path d="M178.3,542.7 V545.5" stroke-width="1.3"/>
<path d="M180.9,542.7 V546.2" stroke-width="1.8"/>
<path d="M198.2,542.7 V545.5" stroke-width="1.3"/>
<path d="M208.3,542.7 V545.5" stroke-width="1.3"/>
<path d="M215.4,542.7 V545.5" stroke-width="1.3"/>
<path d="M221.0,542.7 V545.5" stroke-width="1.3"/>
<path d="M225.5,542.7 V545.5" stroke-width="1.3"/>
<path d="M229.4,542.7 V545.5" stroke-width="1.3"/>
<path d="M232.7,542.7 V545.5" stroke-width="1.3"/>
<path d="M235.6,542.7 V545.5" stroke-width="1.3"/>
<path d="M238.2,542.7 V546.2" stroke-width="1.8"/>
<path d="M255.5,542.7 V545.5" stroke-width="1.3"/>
<path d="M265.6,542.7 V545.5" stroke-width="1.3"/>
<path d="M272.8,542.7 V545.5" stroke-width="1.3"/>
<path d="M278.3,542.7 V545.5" stroke-width="1.3"/>
<path d="M282.9,542.7 V545.5" stroke-width="1.3"/>
<path d="M286.7,542.7 V545.5" stroke-width="1.3"/>
<path d="M290.0,542.7 V545.5" stroke-width="1.3"/>
<path d="M293.0,542.7 V545.5" stroke-width="1.3"/>
<path d="M295.6,542.7 V546.2" stroke-width="1.8"/>
<path d="M312.9,542.7 V545.5" stroke-width="1.3"/>
<path d="M323.0,542.7 V545.5" stroke-width="1.3"/>
<path d="M330.1,542.7 V545.5" stroke-width="1.3"/>
<path d="M335.7,542.7 V545.5" stroke-width="1.3"/>
<path d="M340.2,542.7 V545.5" stroke-width="1.3"/>
<path d="M344.1,542.7 V545.5" stroke-width="1.3"/>
<path d="M347.4,542.7 V545.5" stroke-width="1.3"/>
<path d="M350.3,542.7 V545.5" stroke-width="1.3"/>
<path d="M352.9,542.7 V546.2" stroke-width="1.8"/>
</g>
<text transform="translate(54.4,323.2) scale(0.930,1)" text-anchor="end" xml:space="preserve" letter-spacing="-0.3"><tspan font-size="14.2" dy="0.0" >100</tspan></text>
<text transform="translate(54.4,434.6) scale(0.930,1)" text-anchor="end" xml:space="preserve" letter-spacing="-0.3"><tspan font-size="14.2" dy="0.0" >50</tspan></text>
<text transform="translate(54.4,545.9) scale(0.930,1)" text-anchor="end" xml:space="preserve" letter-spacing="-0.3"><tspan font-size="14.2" dy="0.0" >0</tspan></text>
<text transform="translate(65.9,561.0) scale(1.000,1)" text-anchor="middle" xml:space="preserve" letter-spacing="-0.35"><tspan font-size="13.5" dy="0.0" >0.01</tspan></text>
<text transform="translate(123.3,561.0) scale(1.000,1)" text-anchor="middle" xml:space="preserve" letter-spacing="-0.35"><tspan font-size="13.5" dy="0.0" >0.1</tspan></text>
<text transform="translate(180.6,561.0) scale(1.000,1)" text-anchor="middle" xml:space="preserve" letter-spacing="0"><tspan font-size="13.5" dy="0.0" >1</tspan></text>
<text transform="translate(237.9,561.0) scale(1.000,1)" text-anchor="middle" xml:space="preserve" letter-spacing="0"><tspan font-size="13.5" dy="0.0" >10</tspan></text>
<text transform="translate(295.3,561.0) scale(1.000,1)" text-anchor="middle" xml:space="preserve" letter-spacing="0"><tspan font-size="13.5" dy="0.0" >100</tspan></text>
<text transform="translate(352.6,561.0) scale(1.000,1)" text-anchor="middle" xml:space="preserve" letter-spacing="0"><tspan font-size="13.5" dy="0.0" >1000</tspan></text>
<path d="M106.0,542.7 C107.3,542.3 111.2,541.7 114.0,540.5 C116.8,539.3 120.0,537.9 123.0,535.5 C126.0,533.1 129.3,529.8 132.0,526.0 C134.7,522.2 136.7,517.6 139.0,512.5 C141.3,507.4 143.4,501.7 146.0,495.5 C148.6,489.3 151.7,482.5 154.6,475.5 C157.5,468.5 160.7,459.6 163.4,453.5 C166.1,447.4 168.4,443.1 170.9,439.0 C173.4,434.9 175.6,431.3 178.3,428.7 C181.0,426.1 184.4,424.4 187.0,423.3 C189.6,422.2 191.7,422.2 194.0,422.3 C196.3,422.4 198.4,422.8 201.0,424.0 C203.6,425.2 205.5,425.1 209.5,429.8 C213.5,434.6 221.3,447.1 225.1,452.5 C228.8,457.9 230.0,459.6 232.0,462.0 C234.0,464.4 235.4,465.9 237.0,467.0 C238.6,468.1 240.0,468.7 241.5,468.6 C243.0,468.5 244.6,467.9 246.0,466.5 C247.4,465.1 248.0,465.9 250.2,460.0 C252.4,454.1 256.9,439.8 259.2,431.2 C261.5,422.6 263.0,414.2 264.2,408.2 C265.4,402.1 265.6,400.2 266.6,394.9 C267.6,389.6 268.9,382.7 270.0,376.6 C271.1,370.5 272.2,363.9 273.3,358.3 C274.4,352.8 275.2,348.3 276.6,343.3 C278.0,338.3 280.3,331.7 281.6,328.3 C282.9,324.9 283.5,324.2 284.5,323.0 C285.5,321.8 286.4,320.9 287.4,320.8 C288.4,320.7 289.5,321.5 290.5,322.5 C291.5,323.5 292.3,323.7 293.3,326.6 C294.3,329.5 295.6,335.3 296.6,340.0 C297.6,344.7 298.3,349.4 299.1,354.9 C299.9,360.4 300.8,367.1 301.6,373.2 C302.4,379.3 303.3,385.4 304.1,391.5 C304.9,397.6 305.4,396.8 306.6,410.0 C307.9,423.2 309.7,448.8 311.6,470.9 C313.5,493.0 316.8,530.7 317.8,542.7" fill="none" stroke="#0818FF" stroke-width="1.7" stroke-linejoin="round"/>
<path d="M105.0,542.7 C106.3,542.3 110.2,541.8 113.0,540.5 C115.8,539.2 119.0,537.6 122.0,535.0 C125.0,532.4 128.3,529.0 131.0,525.0 C133.7,521.0 135.7,516.0 138.0,511.0 C140.3,506.0 142.3,500.8 144.9,494.8 C147.5,488.8 150.7,482.0 153.6,474.9 C156.5,467.8 159.7,458.6 162.4,452.4 C165.1,446.1 167.4,441.8 169.9,437.4 C172.4,433.0 174.6,429.0 177.3,426.2 C180.0,423.4 183.4,421.6 186.1,420.5 C188.8,419.4 190.8,419.2 193.5,419.5 C196.2,419.8 199.2,420.1 202.3,422.0 C205.4,423.9 208.7,427.8 212.3,431.2 C215.9,434.6 220.4,439.6 223.7,442.5 C227.0,445.4 229.4,447.1 232.0,448.5 C234.6,449.9 236.8,451.2 239.3,451.0 C241.8,450.8 244.4,449.4 247.0,447.5 C249.6,445.6 252.1,443.8 254.9,439.7 C257.7,435.6 261.1,429.2 264.0,423.0 C266.9,416.8 270.4,407.3 272.5,402.3 C274.6,397.3 275.1,396.1 276.6,393.2 C278.1,390.3 280.2,386.9 281.6,384.9 C283.0,382.9 283.9,381.9 285.0,381.0 C286.1,380.1 287.2,379.4 288.3,379.3 C289.4,379.2 290.6,379.9 291.7,380.7 C292.8,381.5 293.5,381.9 294.9,384.0 C296.3,386.1 298.4,389.7 299.9,393.2 C301.4,396.7 301.7,397.1 304.1,404.8 C306.5,412.6 311.2,426.3 314.4,439.7 C317.5,453.1 319.9,467.8 323.0,485.0 C326.1,502.2 331.2,533.1 332.9,542.7" fill="none" stroke="#FF0000" stroke-width="1.8" stroke-linejoin="round"/>
<path d="M106.0,542.7 C107.3,542.3 111.2,541.7 114.0,540.5 C116.8,539.3 120.0,537.9 123.0,535.5 C126.0,533.1 129.3,529.8 132.0,526.0 C134.7,522.2 136.8,517.5 139.0,512.5 C141.2,507.5 142.7,501.6 144.9,496.0 C147.1,490.4 149.7,484.6 152.4,478.6 C155.1,472.6 158.2,465.7 161.1,459.9 C164.0,454.1 167.0,447.8 169.9,443.7 C172.8,439.6 175.9,437.0 178.4,435.0 C180.9,433.0 182.7,432.5 185.0,431.8 C187.3,431.1 190.1,430.8 192.3,431.0 C194.5,431.2 195.6,431.6 198.0,433.0 C200.4,434.4 202.4,433.9 206.7,439.7 C211.0,445.5 219.1,461.4 223.7,468.0 C228.2,474.6 230.7,476.8 234.0,479.5 C237.3,482.2 240.6,483.9 243.6,484.5 C246.6,485.1 249.2,484.3 252.0,483.0 C254.8,481.7 256.8,481.4 260.6,476.5 C264.4,471.6 271.1,459.1 274.8,453.9 C278.5,448.6 280.4,446.9 283.0,445.0 C285.6,443.1 288.0,442.2 290.3,442.5 C292.6,442.8 294.9,444.1 297.0,446.5 C299.1,448.9 300.2,448.8 303.1,456.7 C306.0,464.6 310.6,479.3 314.4,493.6 C318.2,507.9 323.9,534.5 325.8,542.7" fill="none" stroke="#00F000" stroke-width="1.8" stroke-linejoin="round"/>
<path d="M66.2,541.5 C73.2,541.5 101.0,541.5 108.0,541.5 L108.0,542.7 C109.3,542.2 113.2,541.5 116.0,540.0 C118.8,538.5 122.0,536.8 125.0,534.0 C128.0,531.2 131.0,527.8 134.0,523.5 C137.0,519.2 140.3,513.5 143.0,508.0 C145.7,502.5 146.0,499.7 150.0,490.7 C154.0,481.7 162.3,461.7 167.0,453.9 C171.7,446.1 174.8,445.9 178.4,443.9 C182.0,441.9 184.5,441.3 188.3,442.0 C192.1,442.7 196.5,443.9 201.0,448.2 C205.5,452.5 210.5,462.6 215.2,468.0 C219.9,473.4 224.2,478.1 229.4,480.8 C234.6,483.6 242.0,484.3 246.4,484.5 C250.8,484.7 253.2,482.8 256.0,482.0 C258.8,481.2 260.3,479.2 263.4,480.0 C266.5,480.8 271.0,482.4 274.8,486.5 C278.6,490.6 283.0,498.5 286.1,504.9 C289.2,511.3 291.4,518.7 293.2,524.8 C294.9,530.9 296.0,538.7 296.6,541.5 L296.6,541.5 C306.0,541.5 343.6,541.5 353.0,541.5" fill="none" stroke="#000000" stroke-width="2.0" stroke-linejoin="round" stroke-dasharray="5.5,3.5"/>
<path d="M106.0,542.7 C107.3,542.2 111.2,541.5 114.0,540.0 C116.8,538.5 120.0,536.8 123.0,534.0 C126.0,531.2 129.0,527.8 132.0,523.5 C135.0,519.2 138.0,513.2 141.0,508.0 C144.0,502.8 145.7,499.8 150.0,492.0 C154.3,484.2 163.2,467.2 167.0,461.0 C170.8,454.8 171.1,456.3 173.0,455.0 C174.9,453.7 176.6,453.3 178.4,453.3 C180.2,453.3 182.1,453.9 184.0,455.0 C185.9,456.1 186.6,456.5 189.7,460.0 C192.8,463.5 198.5,470.9 202.5,476.0 C206.5,481.1 209.3,486.9 213.8,490.7 C218.3,494.5 224.0,496.6 229.4,498.7 C234.8,500.8 240.7,501.8 246.4,503.5 C252.1,505.2 258.7,507.1 263.4,509.2 C268.1,511.3 271.7,512.7 274.8,516.2 C277.9,519.7 279.7,526.0 281.8,530.4 C283.9,534.8 286.6,540.7 287.5,542.7" fill="none" stroke="#ED7D31" stroke-width="2.0" stroke-linejoin="round" stroke-dasharray="5.5,3.5"/>
<path d="M104.5,542.7 C105.9,542.2 110.1,541.1 113.0,539.5 C115.9,537.9 119.0,535.8 122.0,533.0 C125.0,530.2 128.0,526.7 131.0,522.5 C134.0,518.3 136.8,513.2 140.0,508.0 C143.2,502.8 145.5,498.2 150.0,491.0 C154.5,483.8 163.2,470.2 167.0,465.0 C170.8,459.8 171.1,460.6 173.0,459.5 C174.9,458.4 176.6,457.9 178.4,458.1 C180.2,458.3 182.1,458.9 184.0,460.5 C185.9,462.1 186.6,463.1 189.7,468.0 C192.8,472.9 198.7,484.1 202.5,490.0 C206.3,495.9 207.9,500.8 212.4,503.5 C216.9,506.2 223.7,505.6 229.4,506.5 C235.1,507.4 240.7,507.7 246.4,508.7 C252.1,509.7 258.7,510.8 263.4,512.4 C268.1,514.0 271.7,515.4 274.8,518.5 C277.9,521.6 279.6,527.0 281.8,531.0 C284.0,535.0 287.0,540.8 288.0,542.7" fill="none" stroke="#12AEEA" stroke-width="1.8" stroke-linejoin="round" stroke-dasharray="5.5,3.5"/>
<path d="M108.0,542.7 C109.3,542.2 113.2,541.4 116.0,540.0 C118.8,538.6 122.0,537.2 125.0,534.5 C128.0,531.8 131.0,528.2 134.0,524.0 C137.0,519.8 140.3,514.3 143.0,509.0 C145.7,503.7 146.0,500.9 150.0,492.0 C154.0,483.1 163.0,463.0 167.0,455.3 C171.0,447.6 171.9,448.0 174.0,446.0 C176.1,444.0 178.0,443.4 179.8,443.1 C181.6,442.9 183.3,443.4 185.0,444.5 C186.7,445.6 186.8,445.9 189.7,449.6 C192.6,453.3 198.2,460.9 202.5,466.6 C206.8,472.3 210.7,479.2 215.2,483.6 C219.7,488.0 224.2,491.0 229.4,493.0 C234.6,495.0 240.7,494.9 246.4,495.5 C252.1,496.1 258.7,494.8 263.4,496.4 C268.1,498.0 271.5,500.6 274.8,504.9 C278.1,509.1 280.9,515.6 283.3,521.9 C285.8,528.2 288.5,539.2 289.5,542.7" fill="none" stroke="#000000" stroke-width="2.0" stroke-linejoin="round"/>
<path d="M106.0,542.7 C107.3,542.2 111.2,541.5 114.0,540.0 C116.8,538.5 120.0,536.8 123.0,534.0 C126.0,531.2 129.0,527.4 132.0,523.0 C135.0,518.6 138.0,512.8 141.0,507.5 C144.0,502.2 145.7,499.0 150.0,491.0 C154.3,483.0 163.2,465.8 167.0,459.5 C170.8,453.2 171.1,454.8 173.0,453.5 C174.9,452.2 176.6,451.8 178.4,451.9 C180.2,452.0 182.1,452.7 184.0,454.0 C185.9,455.3 186.6,455.3 189.7,459.5 C192.8,463.7 198.5,473.5 202.5,479.4 C206.5,485.3 209.3,491.4 213.8,495.0 C218.3,498.6 224.0,499.1 229.4,500.7 C234.8,502.2 240.7,502.9 246.4,504.3 C252.1,505.7 258.7,507.2 263.4,509.2 C268.1,511.2 271.7,512.7 274.8,516.2 C277.9,519.7 279.7,526.0 281.8,530.4 C283.9,534.8 286.6,540.7 287.5,542.7" fill="none" stroke="#ED7D31" stroke-width="2.1" stroke-linejoin="round"/>
<path d="M66.2,542.7 C71.8,542.7 94.4,542.7 100.0,542.7 L100.0,542.7 C100.8,542.7 102.3,543.0 104.5,542.5 C106.7,542.0 110.1,541.1 113.0,539.5 C115.9,537.9 119.0,535.8 122.0,533.0 C125.0,530.2 128.0,526.7 131.0,522.5 C134.0,518.3 136.8,513.2 140.0,508.0 C143.2,502.8 145.5,498.6 150.0,491.0 C154.5,483.4 163.2,468.1 167.0,462.4 C170.8,456.7 171.1,458.2 173.0,457.0 C174.9,455.8 176.6,455.1 178.4,455.3 C180.2,455.5 182.1,456.4 184.0,458.0 C185.9,459.6 186.6,460.2 189.7,465.2 C192.8,470.2 198.7,481.8 202.5,487.9 C206.3,494.0 209.5,499.3 212.4,502.0 C215.3,504.7 217.2,503.5 220.0,504.0 C222.8,504.5 225.0,504.4 229.4,504.9 C233.8,505.4 240.7,506.1 246.4,507.2 C252.1,508.3 258.7,509.6 263.4,511.4 C268.1,513.1 271.7,514.5 274.8,517.7 C277.9,520.9 279.6,526.2 281.8,530.4 C284.0,534.6 287.0,540.7 288.0,542.7 L288.0,542.7 C298.9,542.7 342.6,542.7 353.5,542.7" fill="none" stroke="#12AEEA" stroke-width="2.4" stroke-linejoin="round"/>
<path d="M212.5,316.5 V541.7" stroke="#000" stroke-width="3" fill="none"/>
<path d="M271.4,316.5 V541.7" stroke="#000" stroke-width="3" fill="none"/>
<text transform="translate(182.8,340.2) scale(0.870,1)" text-anchor="start" xml:space="preserve" ><tspan font-size="23.2" dy="0.0" >Q</tspan><tspan font-size="15.0" dy="0.3" >2</tspan></text>
<text transform="translate(244.0,340.2) scale(0.870,1)" text-anchor="start" xml:space="preserve" ><tspan font-size="23.2" dy="0.0" >Q</tspan><tspan font-size="15.0" dy="0.3" >1</tspan></text>
<text transform="translate(70.3,311.6) scale(1.000,1)" text-anchor="start" xml:space="preserve" ><tspan font-size="19.6" dy="0.0" >(c)</tspan></text>
<text transform="translate(103.2,311.6) scale(1.000,1)" text-anchor="start" xml:space="preserve" letter-spacing="0.9"><tspan font-size="20.8" dy="0.0" >J-3</tspan></text>
<g stroke="#000" fill="none">
<path d="M400.7,316.0 V546.5" stroke-width="2"/>
<path d="M397.2,543.0 H689.0" stroke-width="2"/>
<path d="M397.2,320.0 H400.7" stroke-width="1.6"/>
<path d="M397.2,431.5 H400.7" stroke-width="1.6"/>
<path d="M400.7,543.0 V546.5" stroke-width="1.8"/>
<path d="M418.0,543.0 V545.8" stroke-width="1.3"/>
<path d="M428.1,543.0 V545.8" stroke-width="1.3"/>
<path d="M435.3,543.0 V545.8" stroke-width="1.3"/>
<path d="M440.9,543.0 V545.8" stroke-width="1.3"/>
<path d="M445.4,543.0 V545.8" stroke-width="1.3"/>
<path d="M449.3,543.0 V545.8" stroke-width="1.3"/>
<path d="M452.6,543.0 V545.8" stroke-width="1.3"/>
<path d="M455.5,543.0 V545.8" stroke-width="1.3"/>
<path d="M458.1,543.0 V546.5" stroke-width="1.8"/>
<path d="M475.4,543.0 V545.8" stroke-width="1.3"/>
<path d="M485.6,543.0 V545.8" stroke-width="1.3"/>
<path d="M492.7,543.0 V545.8" stroke-width="1.3"/>
<path d="M498.3,543.0 V545.8" stroke-width="1.3"/>
<path d="M502.9,543.0 V545.8" stroke-width="1.3"/>
<path d="M506.7,543.0 V545.8" stroke-width="1.3"/>
<path d="M510.0,543.0 V545.8" stroke-width="1.3"/>
<path d="M513.0,543.0 V545.8" stroke-width="1.3"/>
<path d="M515.6,543.0 V546.5" stroke-width="1.8"/>
<path d="M532.9,543.0 V545.8" stroke-width="1.3"/>
<path d="M543.0,543.0 V545.8" stroke-width="1.3"/>
<path d="M550.2,543.0 V545.8" stroke-width="1.3"/>
<path d="M555.8,543.0 V545.8" stroke-width="1.3"/>
<path d="M560.3,543.0 V545.8" stroke-width="1.3"/>
<path d="M564.2,543.0 V545.8" stroke-width="1.3"/>
<path d="M567.5,543.0 V545.8" stroke-width="1.3"/>
<path d="M570.4,543.0 V545.8" stroke-width="1.3"/>
<path d="M573.0,543.0 V546.5" stroke-width="1.8"/>
<path d="M590.3,543.0 V545.8" stroke-width="1.3"/>
<path d="M600.5,543.0 V545.8" stroke-width="1.3"/>
<path d="M607.6,543.0 V545.8" stroke-width="1.3"/>
<path d="M613.2,543.0 V545.8" stroke-width="1.3"/>
<path d="M617.8,543.0 V545.8" stroke-width="1.3"/>
<path d="M621.6,543.0 V545.8" stroke-width="1.3"/>
<path d="M624.9,543.0 V545.8" stroke-width="1.3"/>
<path d="M627.9,543.0 V545.8" stroke-width="1.3"/>
<path d="M630.5,543.0 V546.5" stroke-width="1.8"/>
<path d="M647.8,543.0 V545.8" stroke-width="1.3"/>
<path d="M657.9,543.0 V545.8" stroke-width="1.3"/>
<path d="M665.1,543.0 V545.8" stroke-width="1.3"/>
<path d="M670.7,543.0 V545.8" stroke-width="1.3"/>
<path d="M675.2,543.0 V545.8" stroke-width="1.3"/>
<path d="M679.1,543.0 V545.8" stroke-width="1.3"/>
<path d="M682.4,543.0 V545.8" stroke-width="1.3"/>
<path d="M685.3,543.0 V545.8" stroke-width="1.3"/>
<path d="M688.0,543.0 V546.5" stroke-width="1.8"/>
</g>
<text transform="translate(388.9,323.2) scale(0.930,1)" text-anchor="end" xml:space="preserve" letter-spacing="-0.3"><tspan font-size="14.2" dy="0.0" >100</tspan></text>
<text transform="translate(388.9,434.7) scale(0.930,1)" text-anchor="end" xml:space="preserve" letter-spacing="-0.3"><tspan font-size="14.2" dy="0.0" >50</tspan></text>
<text transform="translate(388.9,546.2) scale(0.930,1)" text-anchor="end" xml:space="preserve" letter-spacing="-0.3"><tspan font-size="14.2" dy="0.0" >0</tspan></text>
<text transform="translate(400.4,561.3) scale(1.000,1)" text-anchor="middle" xml:space="preserve" letter-spacing="-0.35"><tspan font-size="13.5" dy="0.0" >0.01</tspan></text>
<text transform="translate(457.8,561.3) scale(1.000,1)" text-anchor="middle" xml:space="preserve" letter-spacing="-0.35"><tspan font-size="13.5" dy="0.0" >0.1</tspan></text>
<text transform="translate(515.3,561.3) scale(1.000,1)" text-anchor="middle" xml:space="preserve" letter-spacing="0"><tspan font-size="13.5" dy="0.0" >1</tspan></text>
<text transform="translate(572.8,561.3) scale(1.000,1)" text-anchor="middle" xml:space="preserve" letter-spacing="0"><tspan font-size="13.5" dy="0.0" >10</tspan></text>
<text transform="translate(630.2,561.3) scale(1.000,1)" text-anchor="middle" xml:space="preserve" letter-spacing="0"><tspan font-size="13.5" dy="0.0" >100</tspan></text>
<text transform="translate(687.7,561.3) scale(1.000,1)" text-anchor="middle" xml:space="preserve" letter-spacing="0"><tspan font-size="13.5" dy="0.0" >1000</tspan></text>
<path d="M418.0,543.0 C419.0,542.7 421.5,543.3 424.0,541.0 C426.5,538.7 429.4,534.4 433.2,529.1 C436.9,523.8 442.1,516.2 446.5,509.1 C450.9,502.0 455.4,493.8 459.8,486.5 C464.2,479.2 469.1,471.0 473.1,465.2 C477.1,459.4 480.5,454.9 483.8,451.9 C487.1,448.9 489.1,447.9 493.1,447.4 C497.1,446.9 503.5,448.5 507.7,448.7 C511.9,448.9 514.4,448.4 518.4,448.7 C522.4,449.0 527.7,449.2 531.7,450.6 C535.7,452.0 538.8,453.8 542.3,457.3 C545.8,460.8 549.4,466.3 553.0,471.5 C556.6,476.7 561.1,485.3 564.0,488.6 C566.9,491.9 568.4,491.7 570.6,491.3 C572.8,490.9 574.8,490.4 577.3,486.0 C579.8,481.6 583.1,471.8 585.3,464.6 C587.5,457.4 588.5,452.7 590.5,443.0 C592.5,433.3 594.6,420.6 597.3,406.5 C600.0,392.4 604.0,371.0 606.6,358.6 C609.2,346.2 611.5,338.0 613.2,332.0 C614.9,326.0 615.8,324.6 617.0,322.5 C618.2,320.4 619.4,319.3 620.7,319.5 C622.0,319.7 623.6,321.0 625.0,323.5 C626.4,326.0 627.4,326.1 629.2,334.6 C631.0,343.1 633.9,360.4 635.9,374.6 C637.9,388.8 639.9,408.1 641.2,419.8 C642.5,431.5 642.9,434.4 643.8,445.0 C644.7,455.6 645.4,470.3 646.5,483.3 C647.6,496.3 649.4,513.2 650.5,523.2 C651.6,533.2 652.8,539.7 653.2,543.0" fill="none" stroke="#0818FF" stroke-width="1.7" stroke-linejoin="round"/>
<path d="M416.0,543.0 C417.0,542.7 419.1,543.8 422.0,541.0 C424.9,538.2 429.1,532.4 433.2,526.4 C437.3,520.4 442.1,513.2 446.5,505.2 C450.9,497.2 455.4,487.4 459.8,478.5 C464.2,469.6 468.7,459.4 473.1,451.9 C477.5,444.4 483.1,437.1 486.4,433.3 C489.7,429.5 491.0,429.3 493.1,428.8 C495.2,428.3 497.0,429.5 499.0,430.5 C501.0,431.5 501.9,431.5 505.1,434.6 C508.3,437.7 514.0,445.1 518.4,449.3 C522.8,453.5 527.3,457.3 531.7,459.9 C536.1,462.5 541.4,463.8 545.0,464.7 C548.6,465.6 549.7,465.2 553.3,465.4 C556.9,465.6 562.1,466.8 566.6,466.0 C571.1,465.2 576.0,463.9 580.0,460.6 C584.0,457.3 587.3,451.6 590.6,446.0 C593.9,440.4 597.3,433.1 600.0,427.0 C602.7,420.9 603.7,416.6 606.6,409.2 C609.5,401.8 614.5,388.7 617.2,382.6 C619.9,376.5 621.3,374.9 623.0,372.5 C624.7,370.1 626.0,368.9 627.3,368.0 C628.6,367.1 629.8,366.8 631.0,366.9 C632.2,367.0 633.4,366.8 634.7,368.5 C636.0,370.2 636.8,371.8 638.8,377.2 C640.8,382.6 643.9,392.1 646.5,401.2 C649.1,410.3 651.8,420.5 654.5,432.0 C657.2,443.5 659.8,455.7 662.5,470.0 C665.2,484.3 668.5,506.8 670.5,517.9 C672.5,529.0 673.4,532.3 674.5,536.5 C675.6,540.7 676.8,541.9 677.2,543.0" fill="none" stroke="#FF0000" stroke-width="1.8" stroke-linejoin="round"/>
<path d="M416.5,543.0 C417.5,542.7 419.7,543.8 422.5,541.0 C425.3,538.2 429.2,532.4 433.2,526.4 C437.2,520.4 442.1,513.2 446.5,505.2 C450.9,497.2 455.4,487.4 459.8,478.5 C464.2,469.6 468.7,459.3 473.1,451.9 C477.5,444.4 483.2,437.5 486.4,433.8 C489.6,430.1 490.6,430.2 492.5,429.8 C494.4,429.4 495.9,430.2 498.0,431.5 C500.1,432.8 501.7,433.0 505.1,437.3 C508.5,441.6 514.4,450.4 518.4,457.3 C522.4,464.2 525.5,471.9 529.0,478.5 C532.5,485.1 536.9,493.2 539.7,497.2 C542.5,501.2 543.7,501.1 546.0,502.5 C548.3,503.9 549.9,505.1 553.3,505.9 C556.7,506.7 562.6,506.3 566.6,507.2 C570.6,508.1 574.6,510.2 577.3,511.2 C580.0,512.2 581.2,512.8 583.0,513.0 C584.8,513.2 585.6,514.2 588.0,512.6 C590.4,511.0 594.2,508.5 597.3,503.2 C600.4,497.9 603.5,488.8 606.6,480.6 C609.7,472.4 613.0,460.9 615.9,454.0 C618.8,447.1 621.5,442.3 623.9,439.3 C626.3,436.3 628.3,435.6 630.5,435.8 C632.7,436.0 635.0,437.2 637.2,440.7 C639.4,444.2 641.5,449.1 643.9,456.6 C646.3,464.1 649.5,475.7 651.9,485.9 C654.3,496.1 656.5,508.4 658.5,517.9 C660.5,527.4 662.9,538.8 663.8,543.0" fill="none" stroke="#00F000" stroke-width="1.8" stroke-linejoin="round"/>
<path d="M420.0,543.0 C421.0,542.7 423.8,542.3 426.0,541.0 C428.2,539.7 429.8,539.3 433.2,535.0 C436.6,530.7 442.1,522.4 446.5,515.0 C450.9,507.6 455.8,497.0 459.8,490.5 C463.8,484.0 466.9,479.6 470.5,475.9 C474.1,472.2 477.6,469.8 481.1,468.4 C484.7,467.0 488.2,467.3 491.8,467.4 C495.4,467.5 498.4,467.6 502.4,469.2 C506.4,470.8 511.3,474.1 515.7,477.2 C520.1,480.3 524.6,484.3 529.0,487.9 C533.4,491.4 538.2,495.9 542.3,498.5 C546.3,501.1 549.2,502.4 553.3,503.5 C557.3,504.6 562.1,505.6 566.6,505.1 C571.1,504.6 575.5,502.6 580.0,500.6 C584.5,498.7 589.8,494.3 593.3,493.4 C596.8,492.5 598.6,492.9 601.3,495.2 C603.9,497.5 606.8,502.5 609.2,507.2 C611.6,511.9 613.9,517.9 615.9,523.2 C617.9,528.5 620.1,535.9 621.2,539.2 C622.3,542.5 622.4,542.4 622.6,543.0" fill="none" stroke="#000000" stroke-width="2.0" stroke-linejoin="round" stroke-dasharray="5.5,3.5"/>
<path d="M420.0,543.0 C421.0,542.8 423.8,542.7 426.0,541.5 C428.2,540.3 429.8,539.9 433.2,535.8 C436.6,531.7 442.1,524.2 446.5,517.1 C450.9,510.0 455.8,499.4 459.8,493.2 C463.8,487.0 466.9,483.1 470.5,479.9 C474.1,476.7 478.0,475.0 481.1,473.8 C484.2,472.6 486.0,472.4 489.1,472.7 C492.2,473.0 495.7,473.8 499.7,475.9 C503.7,478.0 508.6,482.1 513.0,485.2 C517.5,488.3 521.9,491.8 526.4,494.5 C530.9,497.2 535.3,499.5 539.7,501.2 C544.1,502.9 548.6,503.9 553.0,504.6 C557.4,505.3 561.8,505.9 566.3,505.2 C570.8,504.5 575.5,502.5 580.0,500.6 C584.5,498.7 589.9,494.7 593.3,493.8 C596.7,492.9 598.0,493.3 600.5,495.5 C603.0,497.7 605.8,502.6 608.0,507.2 C610.2,511.8 612.2,517.2 614.0,523.2 C615.8,529.2 617.8,539.7 618.6,543.0" fill="none" stroke="#000000" stroke-width="2.0" stroke-linejoin="round"/>
<path d="M417.5,543.0 C418.5,542.7 420.9,543.3 423.5,541.0 C426.1,538.7 429.4,534.6 433.2,529.1 C437.0,523.6 442.1,515.1 446.5,507.8 C450.9,500.5 455.8,491.0 459.8,485.2 C463.8,479.4 466.9,476.0 470.5,473.2 C474.1,470.4 477.6,468.6 481.1,468.4 C484.7,468.2 487.8,469.1 491.8,471.9 C495.8,474.7 500.7,480.5 505.1,485.2 C509.5,489.9 514.0,495.6 518.4,499.8 C522.8,504.0 527.3,507.6 531.7,510.5 C536.1,513.4 540.6,515.3 545.0,517.1 C549.4,518.9 554.7,520.2 558.3,521.1 C561.9,522.0 564.0,522.4 566.6,522.5 C569.2,522.6 571.8,522.0 574.0,521.5 C576.2,521.0 577.2,519.8 580.0,519.2 C582.8,518.6 587.3,517.0 590.6,517.9 C593.9,518.8 597.3,521.6 600.0,524.5 C602.7,527.4 604.6,532.1 606.6,535.2 C608.6,538.3 611.0,541.7 611.9,543.0" fill="none" stroke="#ED7D31" stroke-width="2.1" stroke-linejoin="round"/>
<path d="M400.7,543.0 C403.2,543.0 413.4,543.0 416.0,543.0 L416.0,543.0 C416.4,542.8 417.3,542.8 418.5,542.0 C419.7,541.2 420.6,540.6 423.0,538.0 C425.4,535.4 429.3,531.9 433.2,526.4 C437.1,520.9 442.1,512.7 446.5,505.2 C450.9,497.7 455.8,487.2 459.8,481.2 C463.8,475.2 466.9,471.9 470.5,469.2 C474.1,466.4 477.6,464.5 481.1,464.7 C484.7,464.9 487.8,466.5 491.8,470.6 C495.8,474.7 500.7,483.0 505.1,489.2 C509.5,495.4 514.0,502.5 518.4,507.8 C522.8,513.1 527.3,517.8 531.7,521.1 C536.1,524.4 541.5,526.3 545.0,527.8 C548.5,529.2 550.7,529.5 553.0,529.8 C555.3,530.0 555.9,530.2 558.6,529.3 C561.3,528.4 565.7,526.2 569.3,524.5 C572.9,522.8 576.5,520.4 580.0,519.2 C583.5,518.0 587.3,516.5 590.6,517.4 C593.9,518.3 597.3,521.5 600.0,524.5 C602.7,527.5 604.6,532.1 606.6,535.2 C608.6,538.3 611.0,541.7 611.9,543.0 L611.9,543.0 C624.7,543.0 675.7,543.0 688.5,543.0" fill="none" stroke="#12AEEA" stroke-width="2.4" stroke-linejoin="round"/>
<path d="M554.3,314.0 V542.0" stroke="#000" stroke-width="3" fill="none"/>
<path d="M614.8,314.0 V542.0" stroke="#000" stroke-width="3" fill="none"/>
<text transform="translate(523.7,338.3) scale(0.870,1)" text-anchor="start" xml:space="preserve" ><tspan font-size="23.2" dy="0.0" >Q</tspan><tspan font-size="15.0" dy="0.3" >2</tspan></text>
<text transform="translate(584.5,338.3) scale(0.870,1)" text-anchor="start" xml:space="preserve" ><tspan font-size="23.2" dy="0.0" >Q</tspan><tspan font-size="15.0" dy="0.3" >1</tspan></text>
<text transform="translate(407.5,312.9) scale(1.000,1)" text-anchor="start" xml:space="preserve" ><tspan font-size="19.6" dy="0.0" >(d)</tspan></text>
<text transform="translate(443.8,312.9) scale(1.000,1)" text-anchor="start" xml:space="preserve" letter-spacing="0.9"><tspan font-size="20.8" dy="0.0" >J-4</tspan></text>
<rect x="648" y="44" width="119" height="179.6" fill="#F9E3D6"/>
<path d="M655,65 H677" stroke="#0818FF" stroke-width="1.8"/>
<path d="M655,82.6 H677" stroke="#FF0000" stroke-width="1.8"/>
<path d="M655,99.8 H677" stroke="#00F000" stroke-width="1.8"/>
<path d="M655,122.5 H678" stroke="#000" stroke-width="2.6" stroke-dasharray="6,2.5"/>
<path d="M655,141 H678" stroke="#ED7D31" stroke-width="2.6" stroke-dasharray="6,2.5"/>
<path d="M655,159.6 H678" stroke="#12AEEA" stroke-width="1.8" stroke-dasharray="6,3"/>
<path d="M654,178 H678" stroke="#000" stroke-width="2.6"/>
<path d="M654,196.7 H678" stroke="#ED7D31" stroke-width="2.6"/>
<path d="M654,215 H679" stroke="#12AEEA" stroke-width="2.8"/>
<text transform="translate(684.5,68.9) scale(0.960,1)" text-anchor="start" xml:space="preserve" ><tspan font-size="20.5" dy="0.0" >M</tspan><tspan font-size="15.5" dy="2.2" >0</tspan></text>
<text transform="translate(686.2,87.0) scale(0.960,1)" text-anchor="start" xml:space="preserve" ><tspan font-size="20.5" dy="0.0" >F</tspan><tspan font-size="15.5" dy="1.8" >0</tspan></text>
<text transform="translate(684.5,106.6) scale(0.960,1)" text-anchor="start" xml:space="preserve" ><tspan font-size="20.5" dy="0.0" >G</tspan><tspan font-size="15.5" dy="1.2" >0</tspan></text>
<text transform="translate(682.5,129.3) scale(0.960,1)" text-anchor="start" xml:space="preserve" ><tspan font-size="15.8" dy="0.0" >M</tspan><tspan font-size="9.5" dy="0.0" >6</tspan></text>
<text transform="translate(704.5,129.3) scale(0.960,1)" text-anchor="start" xml:space="preserve" letter-spacing="0.4"><tspan font-size="15.8" dy="0.0" >CO</tspan><tspan font-size="9.5" dy="0.0" >2</tspan></text>
<text transform="translate(684.6,146.1) scale(0.960,1)" text-anchor="start" xml:space="preserve" ><tspan font-size="15.8" dy="0.0" >F</tspan><tspan font-size="9.5" dy="0.0" >6</tspan></text>
<text transform="translate(706.2,146.1) scale(0.960,1)" text-anchor="start" xml:space="preserve" letter-spacing="0.4"><tspan font-size="15.8" dy="0.0" >CO</tspan><tspan font-size="9.5" dy="0.0" >2</tspan></text>
<text transform="translate(684.6,163.9) scale(0.960,1)" text-anchor="start" xml:space="preserve" ><tspan font-size="15.8" dy="0.0" >G</tspan><tspan font-size="9.5" dy="0.0" >6</tspan></text>
<text transform="translate(705.5,163.9) scale(0.960,1)" text-anchor="start" xml:space="preserve" letter-spacing="0.4"><tspan font-size="15.8" dy="0.0" >CO</tspan><tspan font-size="9.5" dy="0.0" >2</tspan></text>
<text transform="translate(682.5,180.7) scale(0.960,1)" text-anchor="start" xml:space="preserve" ><tspan font-size="15.8" dy="0.0" >M</tspan><tspan font-size="9.5" dy="0.0" >6</tspan></text>
<text transform="translate(704.5,180.7) scale(0.960,1)" text-anchor="start" xml:space="preserve" letter-spacing="0.5"><tspan font-size="15.8" dy="0.0" >N</tspan><tspan font-size="9.5" dy="0.0" >2</tspan><tspan font-size="15.8" dy="0.0" >-CO</tspan><tspan font-size="9.5" dy="0.0" >2</tspan></text>
<text transform="translate(683.5,197.8) scale(0.960,1)" text-anchor="start" xml:space="preserve" ><tspan font-size="15.8" dy="0.0" >F</tspan><tspan font-size="9.5" dy="0.0" >6</tspan></text>
<text transform="translate(705.5,197.8) scale(0.960,1)" text-anchor="start" xml:space="preserve" letter-spacing="0.5"><tspan font-size="15.8" dy="0.0" >N</tspan><tspan font-size="9.5" dy="0.0" >2</tspan><tspan font-size="15.8" dy="0.0" >-CO</tspan><tspan font-size="9.5" dy="0.0" >2</tspan></text>
<text transform="translate(682.5,216.7) scale(0.960,1)" text-anchor="start" xml:space="preserve" ><tspan font-size="15.8" dy="0.0" >G</tspan><tspan font-size="9.5" dy="0.0" >6</tspan></text>
<text transform="translate(704.5,216.7) scale(0.960,1)" text-anchor="start" xml:space="preserve" letter-spacing="0.5"><tspan font-size="15.8" dy="0.0" >N</tspan><tspan font-size="9.5" dy="0.0" >2</tspan><tspan font-size="15.8" dy="0.0" >-CO</tspan><tspan font-size="9.5" dy="0.0" >2</tspan></text>
<text transform="translate(290.2,197.2) scale(0.900,1)" text-anchor="start" xml:space="preserve" ><tspan font-size="24.0" dy="0.0" >F</tspan><tspan font-size="16.0" dy="0.8" >0</tspan></text>
<text transform="translate(279.6,234.7) scale(0.900,1)" text-anchor="start" xml:space="preserve" ><tspan font-size="24.0" dy="0.0" >M</tspan><tspan font-size="16.0" dy="0.8" >0</tspan></text>
<text transform="translate(327.8,249.4) scale(0.900,1)" text-anchor="start" xml:space="preserve" ><tspan font-size="24.0" dy="0.0" >G</tspan><tspan font-size="16.0" dy="0.8" >0</tspan></text>
<path d="M288,192.3 H285 L282.5,206.5" stroke="#9a9a9a" stroke-width="1" fill="none"/>
<path d="M299,236 L294,244.6" stroke="#9a9a9a" stroke-width="1" fill="none"/>
<path d="M325,245.2 C315,247 306,250 300.4,254.3" stroke="#9a9a9a" stroke-width="1" fill="none"/>
<text transform="translate(21.9,260.3) rotate(-90)" text-anchor="middle" font-size="20.3" textLength="239" lengthAdjust="spacing">Normalized amplitude (%)</text>
<text transform="translate(213.6,589.7) scale(1.000,1)" text-anchor="start" xml:space="preserve" letter-spacing="0.25"><tspan font-size="20.5" dy="0.0" font-style="italic">T</tspan><tspan font-size="12.5" dy="0.0" font-style="italic">2</tspan><tspan font-size="20.5" dy="0.0" > (ms)</tspan></text>
<text transform="translate(536.6,589.7) scale(1.000,1)" text-anchor="start" xml:space="preserve" letter-spacing="0.25"><tspan font-size="20.5" dy="0.0" font-style="italic">T</tspan><tspan font-size="12.5" dy="0.0" font-style="italic">2</tspan><tspan font-size="20.5" dy="0.0" > (ms)</tspan></text>
</svg>
</body></html>
